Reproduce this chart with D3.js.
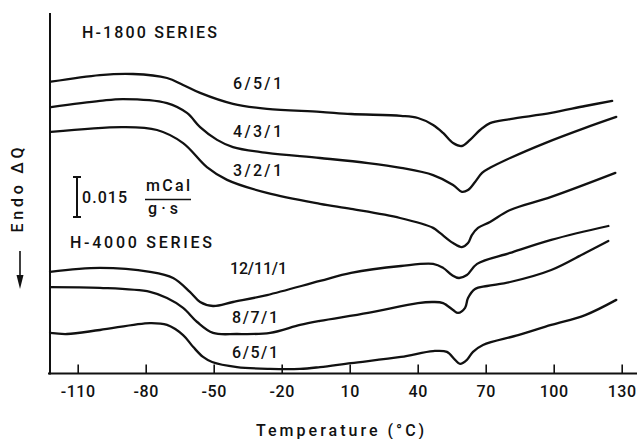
<!DOCTYPE html>
<html>
<head>
<meta charset="utf-8">
<script src="https://cdn.jsdelivr.net/npm/d3@7/dist/d3.min.js"></script>
<style>
  html, body { margin: 0; padding: 0; background: #fff; }
  svg { display: block; }
  text { font-family: Roboto, "DejaVu Sans", sans-serif; font-weight: 500; fill: #111; }
</style>
</head>
<body>
<svg id="chart" width="637" height="439"></svg>
<script>
// DSC traces: temperature (°C) vs. heat flow offset (mCal/(g·s))
const tickValues = [-110, -80, -50, -20, 10, 40, 70, 100, 130];

// H-1800 series
const h1800_651 = [[-121.8,0.1096],[-100.2,0.1121],[-85.6,0.1125],[-70.6,0.1110],[-63.5,0.1084],[-56.0,0.1054],[-41.5,0.1013],[-26.5,0.0994],[-3.1,0.0983],[10.6,0.0975],[32.6,0.0968],[40.1,0.0960],[46.8,0.0934],[51.2,0.0904],[55.6,0.0866],[59.5,0.0855],[63.1,0.0878],[67.5,0.0915],[71.9,0.0941],[80.8,0.0956],[98.9,0.0979],[113.9,0.1005],[125.8,0.1024]];
const h1800_431 = [[-121.8,0.1001],[-100.2,0.1024],[-90.0,0.1031],[-70.6,0.1016],[-61.8,0.0979],[-56.0,0.0926],[-48.5,0.0878],[-41.5,0.0851],[-26.5,0.0829],[-3.1,0.0810],[18.1,0.0791],[32.6,0.0773],[46.8,0.0746],[55.6,0.0709],[59.5,0.0683],[62.2,0.0690],[65.3,0.0720],[68.4,0.0754],[71.9,0.0773],[80.8,0.0810],[96.2,0.0866],[113.9,0.0923],[127.6,0.0964]];
const h1800_321 = [[-121.8,0.0908],[-90.0,0.0926],[-75.0,0.0915],[-63.5,0.0866],[-53.0,0.0776],[-44.1,0.0728],[-26.5,0.0679],[-3.1,0.0638],[10.6,0.0619],[32.2,0.0585],[46.8,0.0548],[49.8,0.0529],[55.6,0.0491],[59.5,0.0476],[62.2,0.0491],[63.9,0.0521],[66.6,0.0548],[71.9,0.0570],[80.8,0.0615],[98.9,0.0664],[127.2,0.0754]];

// H-4000 series
const h4000_12111 = [[-122.2,0.0383],[-100.2,0.0398],[-78.1,0.0383],[-67.9,0.0360],[-60.5,0.0308],[-56.0,0.0270],[-50.3,0.0255],[-41.5,0.0270],[-26.5,0.0296],[-3.1,0.0349],[10.6,0.0379],[32.6,0.0405],[46.8,0.0413],[51.2,0.0398],[55.1,0.0371],[58.2,0.0360],[61.7,0.0371],[66.2,0.0413],[80.8,0.0454],[98.9,0.0503],[124.1,0.0555]];
const h4000_871 = [[-122.2,0.0326],[-100.2,0.0323],[-78.1,0.0308],[-70.6,0.0285],[-63.5,0.0248],[-57.3,0.0195],[-50.3,0.0154],[-39.7,0.0150],[-25.1,0.0154],[-11.9,0.0184],[-3.1,0.0199],[18.1,0.0229],[40.1,0.0266],[46.8,0.0270],[51.2,0.0266],[55.6,0.0240],[57.8,0.0229],[60.9,0.0248],[62.2,0.0285],[65.3,0.0319],[70.6,0.0330],[80.8,0.0345],[98.9,0.0390],[113.9,0.0454],[124.1,0.0499]];
const h4000_651 = [[-122.2,0.0154],[-114.7,0.0150],[-100.2,0.0165],[-78.1,0.0191],[-70.6,0.0184],[-63.5,0.0146],[-59.0,0.0101],[-54.7,0.0064],[-50.7,0.0045],[-39.7,0.0026],[-25.1,0.0019],[-11.9,0.0019],[-3.1,0.0026],[10.6,0.0041],[32.6,0.0064],[46.8,0.0086],[52.9,0.0083],[56.5,0.0053],[58.7,0.0038],[61.7,0.0053],[64.4,0.0083],[68.8,0.0109],[84.3,0.0146],[98.9,0.0184],[113.9,0.0221],[127.6,0.0278]];

const seriesLabels = ["6/5/1", "4/3/1", "3/2/1", "12/11/1", "8/7/1", "6/5/1"];
const scaleBarValue = 0.015;

const svg = d3.select("#chart");
const x = d3.scaleLinear().domain([-110, 130]).range([77.7, 621.7]);
const y = d3.scaleLinear().domain([0, 0.135]).range([374, 14]);

const axisY = 373.5;
const leftX = 50;

// y axis line
svg.append("line")
  .attr("x1", leftX).attr("x2", leftX)
  .attr("y1", 13).attr("y2", axisY + 1)
  .attr("stroke", "#111").attr("stroke-width", 2);

// x axis with upward ticks
const xAxis = d3.axisBottom(x)
  .tickValues(tickValues)
  .tickSize(-9)
  .tickPadding(12)
  .tickFormat(d => String(d));

const gx = svg.append("g")
  .attr("transform", `translate(0,${axisY})`)
  .call(xAxis);
gx.select(".domain").remove();
gx.selectAll(".tick line").attr("stroke", "#111").attr("stroke-width", 1.6);
gx.selectAll(".tick text")
  .attr("font-size", 16)
  .attr("font-family", "Roboto, 'DejaVu Sans', sans-serif")
  .attr("font-weight", 500)
  .attr("fill", "#111")
  .attr("letter-spacing", 0.6);
svg.append("line")
  .attr("x1", 48).attr("x2", 637)
  .attr("y1", axisY).attr("y2", axisY)
  .attr("stroke", "#111").attr("stroke-width", 2.2);

// axis title
svg.append("text")
  .attr("x", 256).attr("y", 430).attr("dy", "0.35em")
  .attr("font-size", 16)
  .attr("textLength", 168).attr("lengthAdjust", "spacing")
  .text("Temperature (°C)");

// y axis title and arrow
svg.append("text")
  .attr("transform", "translate(17,190) rotate(-90)")
  .attr("text-anchor", "middle").attr("dy", "0.35em")
  .attr("font-size", 16)
  .attr("textLength", 85).attr("lengthAdjust", "spacing")
  .text("Endo  ΔQ");
svg.append("line")
  .attr("x1", 20).attr("x2", 20).attr("y1", 251).attr("y2", 278)
  .attr("stroke", "#111").attr("stroke-width", 1.6);
svg.append("path")
  .attr("d", "M16.5,275 L23.5,275 L20,289 Z")
  .attr("fill", "#111");

// curves
const line = d3.line()
  .x(d => x(d[0]))
  .y(d => y(d[1]))
  .curve(d3.curveCatmullRom.alpha(0.5));

const curves = [h1800_651, h1800_431, h1800_321, h4000_12111, h4000_871, h4000_651];
svg.append("g").selectAll("path")
  .data(curves)
  .join("path")
  .attr("d", line)
  .attr("fill", "none")
  .attr("stroke", "#111")
  .attr("stroke-width", 2.3)
  .attr("stroke-linejoin", "round")
  .attr("stroke-linecap", "round");

// series headings
svg.append("text")
  .attr("x", 82).attr("y", 32).attr("dy", "0.35em")
  .attr("font-size", 16)
  .attr("textLength", 135).attr("lengthAdjust", "spacing")
  .text("H-1800 SERIES");
svg.append("text")
  .attr("x", 70).attr("y", 242).attr("dy", "0.35em")
  .attr("font-size", 16)
  .attr("textLength", 142).attr("lengthAdjust", "spacing")
  .text("H-4000 SERIES");

// curve labels
const labelPos = [[233, 83, 49], [233, 131, 49], [233, 170, 49], [230, 268, 57], [232, 317, 46], [232, 352, 46]];
svg.append("g").selectAll("text")
  .data(seriesLabels)
  .join("text")
  .attr("x", (d, i) => labelPos[i][0])
  .attr("y", (d, i) => labelPos[i][1])
  .attr("dy", "0.35em")
  .attr("font-size", 16)
  .attr("textLength", (d, i) => labelPos[i][2])
  .attr("lengthAdjust", "spacing")
  .text(d => d);

// scale bar: 0.015 mCal/(g·s)
const barBottom = 217;
const barTop = barBottom - (y(0) - y(scaleBarValue));
const bar = svg.append("g").attr("stroke", "#111").attr("stroke-width", 2);
bar.append("line").attr("x1", 77).attr("x2", 77).attr("y1", barTop).attr("y2", barBottom);
bar.append("line").attr("x1", 73).attr("x2", 81).attr("y1", barTop).attr("y2", barTop);
bar.append("line").attr("x1", 73).attr("x2", 81).attr("y1", barBottom).attr("y2", barBottom);

svg.append("text")
  .attr("x", 82).attr("y", 197).attr("dy", "0.35em")
  .attr("font-size", 16)
  .attr("textLength", 45).attr("lengthAdjust", "spacing")
  .text(String(scaleBarValue));
svg.append("text")
  .attr("x", 146).attr("y", 185).attr("dy", "0.35em")
  .attr("font-size", 16)
  .attr("textLength", 44).attr("lengthAdjust", "spacing")
  .text("mCal");
svg.append("line")
  .attr("x1", 145).attr("x2", 191).attr("y1", 199.5).attr("y2", 199.5)
  .attr("stroke", "#111").attr("stroke-width", 1.5);
svg.append("text")
  .attr("x", 148).attr("y", 208).attr("dy", "0.35em")
  .attr("font-size", 16)
  .attr("textLength", 30).attr("lengthAdjust", "spacing")
  .text("g·s");
</script>
</body>
</html>
